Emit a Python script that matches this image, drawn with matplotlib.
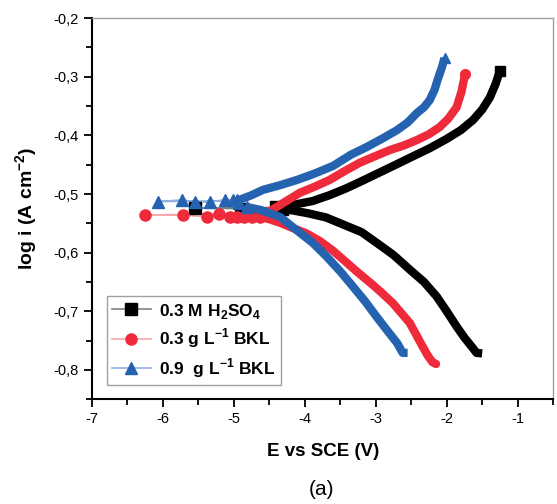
import matplotlib
matplotlib.use('Agg')
import matplotlib.pyplot as plt
from matplotlib.ticker import FuncFormatter, MultipleLocator
from matplotlib.lines import Line2D

plt.rcParams['font.family'] = ['Liberation Sans', 'DejaVu Sans']
plt.rcParams['mathtext.fontset'] = 'custom'
plt.rcParams['mathtext.rm'] = 'Liberation Sans:bold'
plt.rcParams['mathtext.bf'] = 'Liberation Sans:bold'
plt.rcParams['axes.unicode_minus'] = False

labels = ['0.3 M H$_2$SO$_4$', '0.3 g L$^{-1}$ BKL', '0.9  g L$^{-1}$ BKL']

# 0.3 M H2SO4 (black)
black_cath_E = [-1.50, -1.58, -1.63, -1.75, -1.86, -2.00, -2.14, -2.32, -2.52, -2.75,
                -2.99, -3.20, -3.46, -3.70, -3.95, -4.17, -4.32]
black_cath_logi = [-0.772, -0.771, -0.763, -0.745, -0.726, -0.700, -0.675, -0.650, -0.629, -0.604,
                   -0.583, -0.565, -0.552, -0.540, -0.533, -0.528, -0.526]
black_mid_E = [-4.32, -4.90, -5.55, -4.40]
black_mid_logi = [-0.526, -0.525, -0.524, -0.523]
black_anod_E = [-4.40, -4.10, -3.89, -3.65, -3.41, -3.18, -2.94, -2.70, -2.48, -2.24,
                -2.00, -1.80, -1.63, -1.50, -1.39, -1.31, -1.25]
black_anod_logi = [-0.523, -0.517, -0.512, -0.502, -0.490, -0.477, -0.463, -0.449, -0.436, -0.422,
                   -0.406, -0.391, -0.374, -0.356, -0.335, -0.312, -0.290]

# 0.3 g/L BKL (red)
red_cath_E = [-2.15, -2.20, -2.27, -2.34, -2.43, -2.52, -2.64, -2.76, -2.92, -3.08,
              -3.25, -3.41, -3.60, -3.79, -3.98, -4.17, -4.35, -4.50, -4.63]
red_cath_logi = [-0.790, -0.787, -0.775, -0.760, -0.740, -0.720, -0.703, -0.686, -0.668, -0.651,
                 -0.634, -0.617, -0.597, -0.580, -0.567, -0.558, -0.549, -0.543, -0.539]
red_mid_E = [-4.63, -4.75, -4.85, -4.96, -5.06, -5.21, -5.38, -5.72, -6.25, -4.55]
red_mid_logi = [-0.539, -0.540, -0.540, -0.539, -0.539, -0.534, -0.539, -0.536, -0.536, -0.532]
red_anod_E = [-4.50, -4.30, -4.07, -3.85, -3.65, -3.44, -3.23, -3.00, -2.80, -2.60,
              -2.42, -2.25, -2.10, -1.98, -1.86, -1.79, -1.74]
red_anod_logi = [-0.530, -0.515, -0.498, -0.487, -0.476, -0.461, -0.447, -0.435, -0.425, -0.417,
                 -0.408, -0.398, -0.386, -0.372, -0.352, -0.325, -0.295]

# 0.9 g/L BKL (blue)
blue_cath_E = [-2.55, -2.62, -2.70, -2.85, -2.99, -3.15, -3.32, -3.50, -3.69, -3.89,
               -4.07, -4.35, -4.63, -4.82]
blue_cath_logi = [-0.771, -0.771, -0.754, -0.731, -0.709, -0.683, -0.658, -0.632, -0.607, -0.583,
                  -0.566, -0.539, -0.527, -0.522]
blue_mid_E = [-4.82, -4.92, -5.01, -5.13, -5.34, -5.55, -5.73, -6.07, -4.95]
blue_mid_logi = [-0.522, -0.515, -0.510, -0.510, -0.514, -0.513, -0.510, -0.513, -0.511]
blue_anod_E = [-4.92, -4.75, -4.59, -4.35, -4.11, -3.88, -3.60, -3.35, -3.13, -2.90,
               -2.70, -2.55, -2.42, -2.32, -2.24, -2.17, -2.13, -2.07, -2.03]
blue_anod_logi = [-0.510, -0.502, -0.493, -0.485, -0.476, -0.466, -0.452, -0.433, -0.420, -0.405,
                  -0.391, -0.378, -0.362, -0.352, -0.340, -0.322, -0.306, -0.285, -0.268]


def _plot_series(ax, cath, mid, anod, color, light, marker, cap):
    # thin connecting line + sparse markers near the corrosion potential
    ax.plot(mid[0], mid[1], color=light, lw=1.2, zorder=2)
    ax.plot(mid[0], mid[1], ls='none', marker=marker, color=color, ms=8, zorder=3)
    # dense branches look like a thick band of overlapping markers
    for e, li in (cath, anod):
        ax.plot(e, li, color=color, lw=6, solid_capstyle=cap, solid_joinstyle='round', zorder=3)
        ax.plot(e[-1:], li[-1:], ls='none', marker=marker, color=color, ms=7, zorder=3)


fig = plt.figure(figsize=(5.57, 5.04), dpi=100)
ax = fig.add_axes([0.165, 0.208, 0.828, 0.756])

_plot_series(ax, (black_cath_E, black_cath_logi), (black_mid_E, black_mid_logi),
             (black_anod_E, black_anod_logi), 'black', '#808080', 's', 'butt')
_plot_series(ax, (red_cath_E, red_cath_logi), (red_mid_E, red_mid_logi),
             (red_anod_E, red_anod_logi), '#ee2a3b', '#f7a8a8', 'o', 'round')
_plot_series(ax, (blue_cath_E, blue_cath_logi), (blue_mid_E, blue_mid_logi),
             (blue_anod_E, blue_anod_logi), '#2563b0', '#8fb0e0', '^', 'butt')

ax.set_xlim(-7, -0.5)
ax.set_ylim(-0.85, -0.2)
ax.xaxis.set_major_locator(MultipleLocator(1))
ax.xaxis.set_minor_locator(MultipleLocator(0.5))
ax.yaxis.set_major_locator(MultipleLocator(0.1))
ax.yaxis.set_minor_locator(MultipleLocator(0.05))
ax.xaxis.set_major_formatter(FuncFormatter(lambda v, p: f'{v:.0f}'))
ax.yaxis.set_major_formatter(FuncFormatter(lambda v, p: f'{v:.1f}'.replace('.', ',')))
ax.tick_params(which='both', direction='out', width=1.3, labelsize=10.5, top=False, right=False)
ax.tick_params(which='major', length=6)
ax.tick_params(which='minor', length=4)
for s in ('left', 'bottom'):
    ax.spines[s].set_linewidth(1.5)
for s in ('top', 'right'):
    ax.spines[s].set_color('#a0a0a0')
    ax.spines[s].set_linewidth(1.0)

ax.set_xlabel('E vs SCE (V)', fontsize=13.5, fontweight='bold')
ax.set_ylabel('log i (A cm$^{-2}$)', fontsize=14, fontweight='bold')
ax.xaxis.set_label_coords(0.501, -0.115)
ax.yaxis.set_label_coords(-0.112, 0.5)

handles = [
    Line2D([], [], color='#808080', lw=1.2, marker='s', mfc='black', mec='black', ms=8),
    Line2D([], [], color='#f7a8a8', lw=1.2, marker='o', mfc='#ee2a3b', mec='#ee2a3b', ms=8),
    Line2D([], [], color='#8fb0e0', lw=1.2, marker='^', mfc='#2563b0', mec='#2563b0', ms=8),
]
leg = ax.legend(handles, labels, loc='lower left', bbox_to_anchor=(0.033, 0.037),
                prop={'weight': 'bold', 'size': 12.5}, fancybox=False, framealpha=1,
                edgecolor='#a0a0a0', handlelength=2.2, borderpad=0.3, labelspacing=0.35,
                handletextpad=0.5, borderaxespad=0)

fig.text(0.577, 0.028, '(a)', fontsize=15, ha='center', va='center')

fig.savefig('out.png', dpi=100)
